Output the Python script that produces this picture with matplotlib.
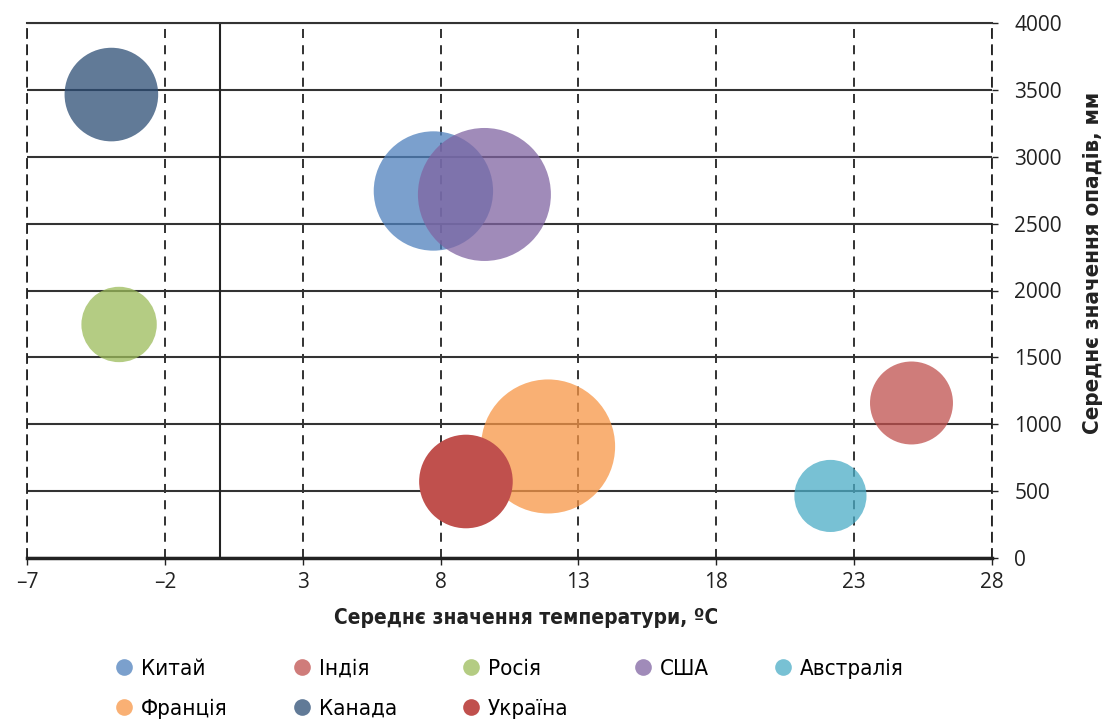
import matplotlib.pyplot as plt
from matplotlib.lines import Line2D

# середні значення по країнах
countries = ["Китай", "Індія", "Росія", "США", "Австралія", "Франція", "Канада", "Україна"]
temperature = [7.74, 25.08, -3.66, 9.59, 22.14, 11.9, -3.94, 8.92]
precipitation = [2744, 1159, 1746, 2718, 464, 834, 3465, 572]
bubble = [3.56, 1.72, 1.42, 4.42, 1.30, 4.49, 2.19, 2.19]

colors = ["#4F81BD", "#C0504D", "#9BBB59", "#8064A2", "#4BACC6", "#F79646", "#2C4D75", "#C0504D"]
alphas = [0.75, 0.75, 0.75, 0.75, 0.75, 0.75, 0.75, 1.0]

xticks = [-7, -2, 3, 8, 13, 18, 23, 28]
yticks = [0, 500, 1000, 1500, 2000, 2500, 3000, 3500, 4000]

plt.rcParams['font.family'] = ['DejaVu Sans']
cond = dict(family='DejaVu Sans', stretch='condensed')

fig = plt.figure(figsize=(11.05, 7.24), dpi=100)
ax = fig.add_axes([27/1105, 1 - 558/724, 965/1105, 535/724])

for name, x, y, b, c, a in zip(countries, temperature, precipitation, bubble, colors, alphas):
    ax.scatter(x, y, s=b*2074, color=c, alpha=a, edgecolors='none', zorder=3)

ax.set_xlim(-7, 28)
ax.set_ylim(0, 4000)
ax.set_xticks(xticks)
ax.set_xticklabels([str(t).replace('-', '–') for t in xticks], fontsize=15, color='#222', family='Open Sans')
ax.set_yticks(yticks)
ax.set_yticklabels([str(t) for t in yticks], fontsize=15, color='#222', ha='left', family='Open Sans')
ax.yaxis.tick_right()
ax.tick_params(axis='x', length=5, width=1, color='#222', pad=5)
ax.tick_params(axis='y', length=4, width=1, color='#222', pad=12)

ax.set_axisbelow(True)
ax.xaxis.grid(True, linestyle=(0, (5, 4)), color='#222', lw=1.3)
ax.yaxis.grid(True, color='#333', lw=1.5)
ax.axvline(0, color='#222', lw=1.5, zorder=1)

for side in ['left', 'right']:
    ax.spines[side].set_linestyle((0, (5, 4)))
    ax.spines[side].set_color('#222')
    ax.spines[side].set_linewidth(1.3)
ax.spines['top'].set_color('#333')
ax.spines['top'].set_linewidth(1.5)
ax.spines['bottom'].set_color('#222')
ax.spines['bottom'].set_linewidth(2.5)

fig.text(526/1105, 1 - 618/724, "Середнє значення температури, ºC", ha='center', va='center',
         fontsize=15, fontweight='bold', color='#222', **cond)
fig.text(1093/1105, 1 - 263/724, "Середнє значення опадів, мм", ha='center', va='center',
         rotation=90, fontsize=16, fontweight='bold', color='#222', **cond)

# легенда: два рядки, заповнення по стовпцях
order = [0, 5, 1, 6, 2, 7, 3, 4]
handles = [Line2D([], [], ls='none', marker='o', markersize=12, markeredgewidth=0,
                  markerfacecolor=colors[i], alpha=alphas[i]) for i in order]
labels = [countries[i] for i in order]
fig.legend(handles, labels, loc='upper left', bbox_to_anchor=(104/1105, 1 - 650/724),
           ncol=5, frameon=False, prop=dict(size=16, **cond), handletextpad=0.25,
           columnspacing=2.85, labelspacing=0.9, handlelength=1.0, borderaxespad=0)

fig.savefig("out.png", dpi=100)
